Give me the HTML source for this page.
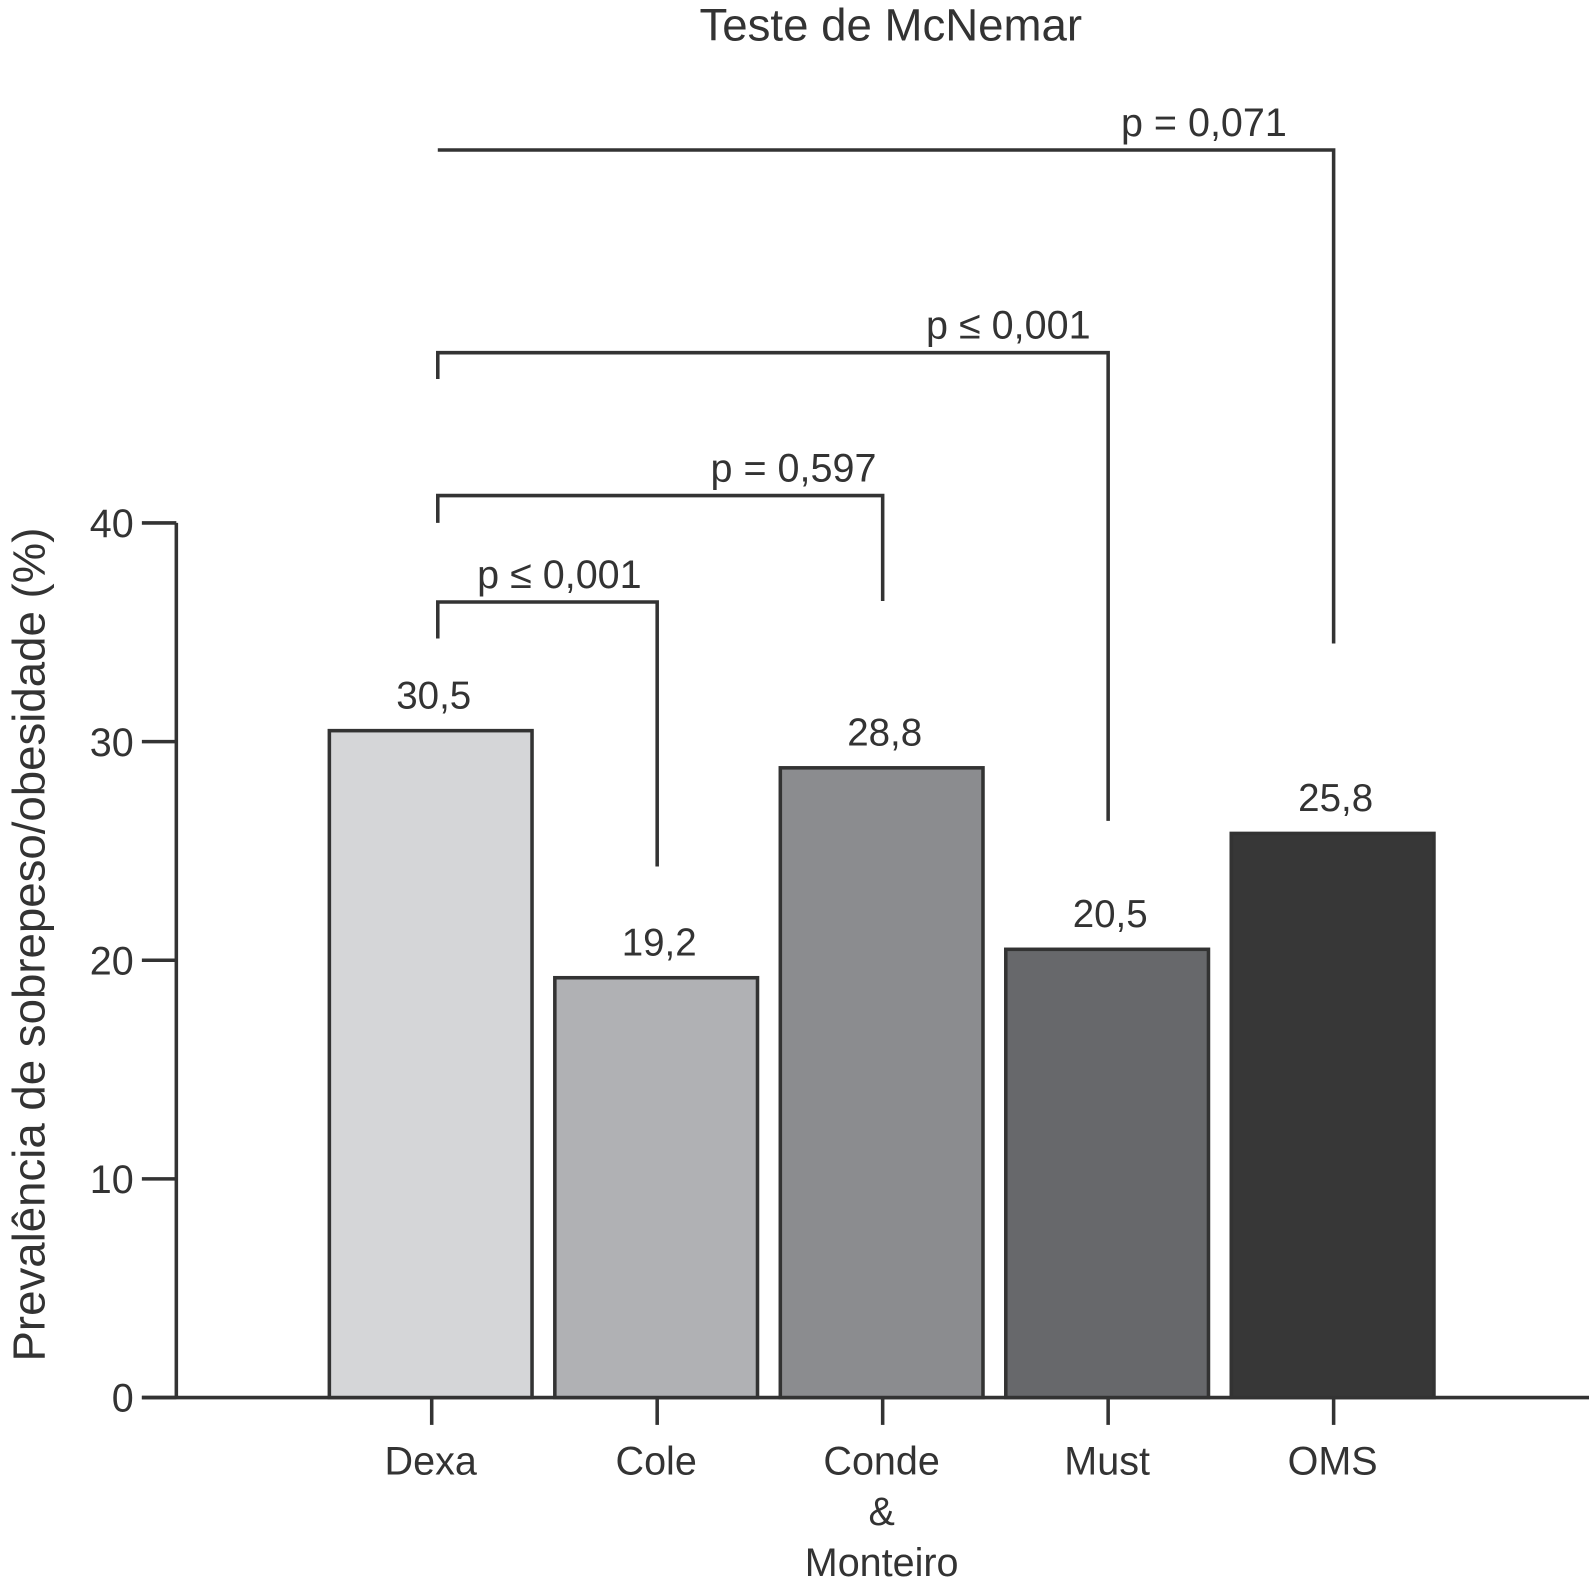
<!DOCTYPE html>
<html><head><meta charset="utf-8"><style>
html,body{margin:0;padding:0;background:#fff}
svg{display:block}
text{font-family:"Liberation Sans",Arial,sans-serif;fill:#333}
</style></head><body>
<svg id="chart" width="1589" height="1583" viewBox="0 0 1568 1562" preserveAspectRatio="none" xmlns="http://www.w3.org/2000/svg">
<text x="879" y="40" font-size="45" text-anchor="middle">Teste de McNemar</text>
<text transform="translate(44,932) rotate(-90)" font-size="45" text-anchor="middle">Prevalência de sobrepeso/obesidade (%)</text>
<g id="axes"></g>
<g id="bars"></g>
<g id="brackets"></g>
</svg>
<script>
const categories = ["Dexa","Cole","Conde\n&\nMonteiro","Must","OMS"];
const values = [30.5, 19.2, 28.8, 20.5, 25.8];
const valueLabels = ["30,5","19,2","28,8","20,5","25,8"];
const yTicks = [0,10,20,30,40];
const colors = ["#d5d6d8","#b0b1b4","#8b8c8f","#67686b","#373737"];
const pLabels = ["p ≤ 0,001","p = 0,597","p ≤ 0,001","p = 0,071"];
const pTargets = [1,2,3,4];

const NS="http://www.w3.org/2000/svg";
const y0=1379, pxPerUnit=(1379-516)/40;
function yScale(v){return y0-v*pxPerUnit;}
function xCenter(i){return 425+i*222.5;}
const barW=200;
function mk(tag,attrs,parent){const e=document.createElementNS(NS,tag);for(const k in attrs)e.setAttribute(k,attrs[k]);parent.appendChild(e);return e;}
const axes=document.getElementById('axes'),bars=document.getElementById('bars'),br=document.getElementById('brackets');
const st={stroke:"#333","stroke-width":3.5,fill:"none"};

let ya=mk('line',Object.assign({x1:174,y1:yScale(40),x2:174,y2:y0},st),axes);


let xa=mk('line',Object.assign({x1:140,y1:y0,x2:1568,y2:y0},st),axes);


yTicks.forEach(t=>{
  const l=mk('line',Object.assign({x1:140,y1:yScale(t),x2:174,y2:yScale(t)},st),axes);
  
  
  const tx=mk('text',{x:132,y:yScale(t)+14,"font-size":39,"text-anchor":"end"},axes);
  tx.textContent=String(t);
  
  
});

values.forEach((v,i)=>{
  const cx=xCenter(i);
  const r=mk('rect',{x:cx-barW/2,y:yScale(v),width:barW,height:y0-yScale(v),fill:colors[i],stroke:"#333","stroke-width":3.5},bars);
  
  
  const vl=mk('text',{x:cx+3,y:yScale(v)-22,"font-size":38,"text-anchor":"middle"},bars);
  vl.textContent=valueLabels[i];
  
  
  const tk=mk('line',Object.assign({x1:cx+1,y1:y0,x2:cx+1,y2:1406},st),axes);
  
  
  categories[i].split('\n').forEach((ln,j)=>{
    const ct=mk('text',{x:cx,y:1455+j*50,"font-size":39,"text-anchor":"middle"},axes);
    ct.textContent=ln;
    
    
  });
});

const bracketY=[594,489,348,148];
const leftEnd=[630,516,374,148];
const rightEnd=[855,593,810,635];
const labelX=[552,783,995,1188];
pTargets.forEach((t,k)=>{
  const xl=432, xr=xCenter(t)+1;
  const p=mk('path',Object.assign({d:`M${xl},${leftEnd[k]} L${xl},${bracketY[k]} L${xr},${bracketY[k]} L${xr},${rightEnd[k]}`},st),br);
  
  
  const lt=mk('text',{x:labelX[k],y:bracketY[k]-14,"font-size":39,"text-anchor":"middle"},br);
  lt.textContent=pLabels[k];
  
  
});
</script>
</body></html>
